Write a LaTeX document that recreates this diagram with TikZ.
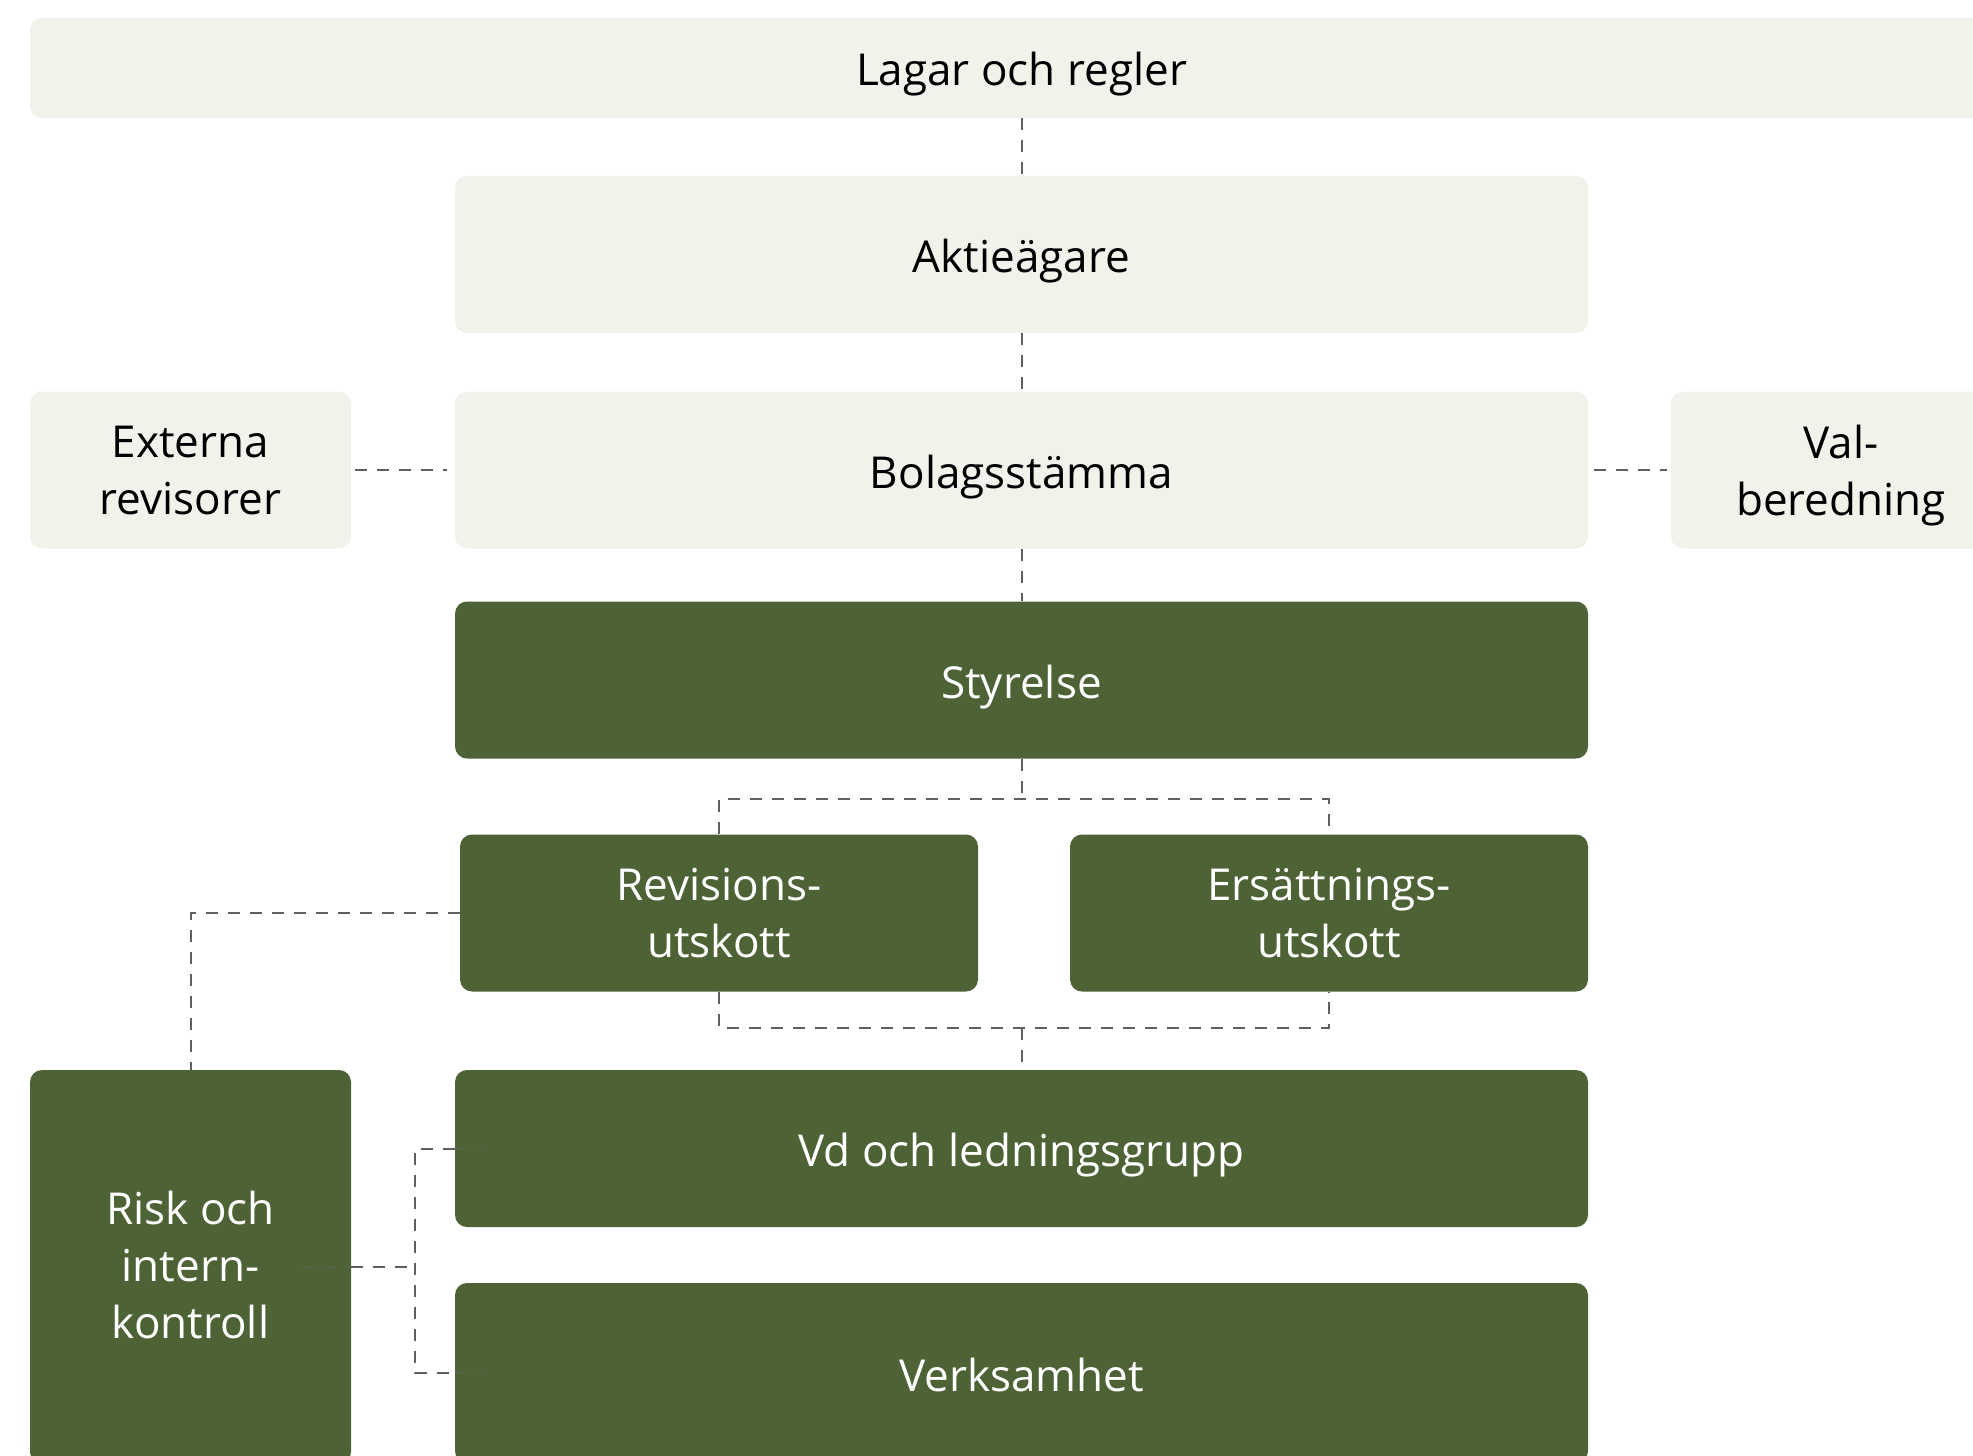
\documentclass[tikz,border=0pt]{standalone}
\usepackage{fontspec}
\setmainfont{Open Sans}
\definecolor{lightbox}{HTML}{F0F3EA}
\definecolor{darkbox}{HTML}{4E6335}
\definecolor{linegray}{HTML}{5F5F5F}
\begin{document}
\begin{tikzpicture}[x=0.5pt,y=-0.5pt,
  lbox/.style={fill=lightbox, rounded corners=6pt, inner sep=0pt, align=center, text=black,
    font=\fontsize{22}{28.5}\selectfont},
  dbox/.style={lbox, fill=darkbox, text=white},
  one/.style={text height=20pt, text depth=2pt},
  multi/.style={text depth=-2pt},
  conn/.style={draw=linegray, line width=1pt, dash pattern=on 6pt off 5pt},
  faint/.style={draw=linegray!45!darkbox, line width=1pt, dash pattern=on 6pt off 5pt}]
\useasboundingbox (0,0) rectangle (1973,1455);
\clip (0,0) rectangle (1973,1455);

\node[lbox, one, minimum width=991.5pt, minimum height=50pt] (lagar) at (1021.5,68) {Lagar och regler};
\node[lbox, one, minimum width=566.5pt, minimum height=78.5pt] (akt) at (1021.5,254.5) {Aktieägare};
\node[lbox, one, minimum width=566.5pt, minimum height=78.5pt] (bolag) at (1021.5,470) {Bolagsstämma};
\node[lbox, text depth=-3pt, minimum width=160.5pt, minimum height=78.5pt] (ext) at (190.5,470) {Externa\\revisorer};
\node[lbox, multi, minimum width=170pt, minimum height=78.5pt] (val) at (1841,470) {Val-\\beredning};
\node[dbox, one, minimum width=566.5pt, minimum height=78.5pt] (styr) at (1021.5,680) {Styrelse};
\node[dbox, text depth=-7pt, minimum width=259pt, minimum height=78.5pt] (rev) at (719,913) {Revisions-\\utskott};
\node[dbox, text depth=-7pt, minimum width=259pt, minimum height=78.5pt] (ers) at (1329,913) {Ersättnings-\\utskott};
\node[dbox, one, minimum width=566.5pt, minimum height=78.5pt] (vd) at (1021.5,1148.5) {Vd och ledningsgrupp};
\node[dbox, one, minimum width=566.5pt, minimum height=90pt] (verk) at (1021.5,1373) {Verksamhet};
\node[dbox, text depth=2.5pt, minimum width=160.5pt, minimum height=197pt] (risk) at (190.5,1267) {Risk och\\intern-\\kontroll};

\coordinate (ft) at (1021.5,799);
\coordinate (fb) at (1021.5,1028);
\coordinate (rj) at (415,1267);
\coordinate (rin) at (302,1267);
\coordinate (vdin) at (484,1148.5);
\coordinate (verkin) at (484,1373);

\draw[conn] (lagar.south) -- (akt.north);
\draw[conn] (akt.south) -- (bolag.north);
\draw[conn, shorten <=2pt, shorten >=4pt] (ext.east) -- (bolag.west);
\draw[conn, shorten <=3pt, shorten >=2pt] (bolag.east) -- (val.west);
\draw[conn] (bolag.south) -- (styr.north);
\draw[conn] (styr.south) -- (ft);
\draw[conn] (rev.north) |- (ft) -| (ers.north);
\draw[conn] (rev.south) |- (fb) -| (ers.south);
\draw[conn] (fb) -- (vd.north);
\draw[conn] (rev.west) -| (risk.north);
\draw[conn] (risk.east) -- (rj);
\draw[conn] (vd.west) -| (rj) |- (verk.west);
\draw[faint] (rin) -- (risk.east);
\draw[faint] (vd.west) -- (vdin);
\draw[faint] (verk.west) -- (verkin);
\end{tikzpicture}
\end{document}
